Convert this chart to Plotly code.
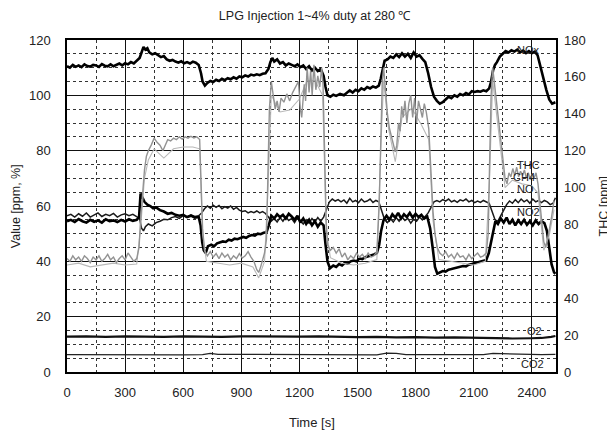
import plotly.graph_objects as go

# ---------------- data ----------------
nox_t = [0,15,30,45,60,75,90,105,120,135,150,165,180,195,210,225,240,255,270,285,300,315,330,345,360,375,385,395,405,415,425,440,455,470,485,500,515,530,545,560,575,590,605,620,635,650,665,680,692,700,712,725,740,755,770,785,800,815,830,845,860,875,890,905,920,935,950,965,980,995,1010,1025,1040,1050,1060,1070,1085,1100,1115,1130,1145,1160,1175,1190,1205,1220,1235,1250,1265,1280,1295,1310,1325,1335,1345,1360,1375,1390,1410,1430,1445,1460,1475,1490,1505,1520,1535,1550,1565,1580,1595,1610,1620,1630,1640,1655,1670,1685,1700,1715,1730,1745,1760,1775,1790,1805,1820,1835,1850,1865,1880,1895,1910,1925,1940,1955,1970,1985,2000,2015,2030,2045,2060,2075,2090,2105,2120,2135,2150,2165,2180,2190,2200,2210,2220,2235,2250,2265,2280,2295,2310,2325,2340,2355,2370,2385,2400,2415,2430,2445,2460,2475,2490,2505,2522]
nox_v = [110.5,110,111,110.3,110.8,110.2,111.2,110.6,110.4,111,110.8,110.3,111.3,110.7,110.5,111.2,110.5,111,111.5,110.8,111.6,111.2,112,111.5,112.5,113.5,115.5,117.5,116.5,117,115.5,114.8,115.2,114.5,113.8,114.2,113,112.5,112.8,112.2,111.8,112.3,111.6,112,111.5,112.2,111.8,111,108,105,103.5,104.5,105.2,104.8,105.6,105.2,106,105.5,106.2,105.8,106.5,106,106.8,106.5,107.2,106.8,107.5,107.2,107.6,107.3,107.8,108,109.5,112,113.5,112.2,113,111.5,112,110.8,111.5,111,110.5,111.2,110.2,110.8,109.5,110.5,109,110,108.8,109.5,107,103,100,99.5,100.2,99.8,100.5,100,101,101.8,101,102,101.5,102.5,102,103,102.5,103.2,102.8,103.5,106,110,112.5,113,114,113.5,114.8,113.8,115.2,114,115,113.5,115.5,114,114.5,113.2,112,108,103,99.5,98,97,97.5,98.5,99.5,99,100,99.5,100.5,100,100.8,100.3,101.5,101.2,101.5,101.3,101.8,101.5,102.5,105,109,111,112,114,115.2,116,115.5,116.3,115.8,116.5,115.5,116.2,115.3,116,115.2,115.8,114.5,110,106,102,98.5,97,97.5]

thc_t = [0,15,30,45,60,75,90,105,120,135,150,165,180,195,210,225,240,255,270,285,300,315,330,345,360,372,380,390,400,410,420,435,450,465,480,495,505,520,535,550,565,580,595,610,625,640,655,670,685,692,700,710,725,740,755,770,785,800,815,830,845,860,875,890,905,920,935,950,965,980,990,1000,1010,1020,1030,1038,1045,1055,1065,1075,1085,1095,1105,1120,1135,1150,1165,1180,1195,1205,1212,1225,1232,1240,1250,1258,1266,1275,1285,1295,1305,1315,1322,1330,1338,1345,1360,1375,1390,1405,1420,1435,1450,1465,1480,1495,1510,1525,1540,1555,1570,1585,1600,1612,1620,1628,1635,1645,1655,1665,1675,1685,1695,1703,1712,1720,1728,1736,1745,1755,1765,1775,1785,1795,1805,1815,1825,1835,1845,1855,1868,1880,1890,1900,1912,1925,1940,1955,1970,1985,2000,2015,2030,2045,2060,2075,2090,2105,2120,2135,2150,2165,2175,2182,2190,2198,2206,2214,2222,2232,2242,2252,2262,2272,2282,2292,2302,2312,2322,2332,2342,2352,2362,2372,2382,2392,2402,2412,2422,2432,2442,2452,2462,2472,2482,2492,2502,2515]
thc_v = [61.5,60,63,60.8,62.3,60,63,61.5,59.3,62.3,60.8,63,60,61.5,63.8,60.8,62.3,59.3,61.5,63,60.8,64.5,62.3,60,61.5,67.5,82.5,97.5,109.5,117,120,123,126.8,124.5,123,120,122.3,126,125.3,126.8,126,127.5,126.3,127.5,126.8,127.8,126.9,127.5,126,105,78,66,63,65.3,62.3,64.2,61.5,64.5,62.3,63.8,60.8,63,61.5,64.2,61.8,63,65.3,62.3,60,55.5,54,57,61.5,64.5,72,105,142.5,157.5,150,142.5,147,141,148.5,146.3,150.8,147,151.5,154.5,157.5,142.5,138,156,147,165,151.5,163.5,150,166.5,153,160.5,154.5,165,156,120,82.5,69,66,67.5,64.5,66.8,62.3,64.5,60.8,63,61.5,64.5,62.3,63.8,61.5,64.5,62.3,63,65.3,90,127.5,157.5,165,150,139.5,132,127.5,123,119.3,123,135,130.5,144,138,147,135,145.5,150,138,148.5,135,147,142.5,138,145.5,141,132,105,87,75,67.5,64.5,63,65.3,62.3,63.8,61.5,64.5,62.3,63,60.8,63.8,61.5,63,64.5,62.3,63,64.5,75,112.5,150,165,157.5,147,142.5,132,123,114,105,102,108,105.8,110.3,106.5,111,105.8,108.8,106.5,109.5,105,108,104.3,107.3,105,108,102,90,78,70.5,67.5,72,78,84,93]

ch4_t = [0,60,120,180,240,300,360,380,400,420,450,500,550,600,650,685,700,720,780,840,900,960,990,1020,1038,1055,1100,1150,1200,1240,1280,1320,1338,1360,1420,1480,1540,1600,1620,1635,1660,1695,1730,1780,1830,1868,1890,1920,1980,2040,2100,2160,2182,2198,2230,2262,2300,2350,2400,2432,2462,2490,2515]
ch4_v = [58,59,57,58,59,58,58.5,78,105,115,121,116,121,122,122,121,75,60,59,58,59,57,51,60,100,150,141,142,148,158,158,150,78,62,59,58,59,61,120,158,132,114,138,143,134,126,82,61,60,59,58,60,105,158,128,100,104,102,101,97,66,74,88]

no_t = [0,20,40,60,80,100,120,140,160,180,200,220,240,260,280,300,320,340,360,375,385,395,405,420,440,460,480,500,520,540,560,580,600,620,640,660,680,695,710,725,740,755,770,785,800,815,830,845,860,875,890,905,920,935,950,965,980,995,1010,1025,1040,1055,1070,1085,1100,1115,1130,1145,1160,1175,1190,1205,1220,1235,1250,1265,1280,1295,1310,1325,1340,1355,1370,1385,1400,1415,1430,1445,1460,1475,1490,1505,1520,1535,1550,1565,1580,1595,1610,1625,1640,1655,1670,1685,1700,1715,1730,1745,1760,1775,1790,1805,1820,1835,1850,1865,1880,1895,1910,1925,1940,1955,1970,1985,2000,2015,2030,2045,2060,2075,2090,2105,2120,2135,2150,2165,2180,2195,2210,2225,2240,2255,2270,2285,2300,2315,2330,2345,2360,2375,2390,2405,2420,2435,2450,2465,2480,2495,2510,2522]
no_v = [56.5,57,56,57.2,56.3,57.5,56,56.8,57.5,56.2,57,56.5,57.3,56,56.8,57.2,56.5,57,56.2,55.5,52,51,52.5,53.5,52.8,54,54.5,55.2,55,55.8,56.2,55.5,56.5,56,56.8,56.2,56.5,57.5,59,60,59.2,60.3,59.5,60.2,59,59.8,59.2,60,58.8,59.5,58.5,58,58.3,57.5,58,57.6,58.2,57.5,58,57.3,56,54.5,55.5,54.2,55.8,54.5,56,54.8,55.5,54,55.8,54.5,53.5,55,53.8,55.5,54.2,55.8,54.5,56,59,61.5,62.5,61.8,62.3,61.5,62.2,61,62.8,61.5,62,61.2,62.5,61.5,61.8,62.5,61.3,62,61.5,58,55,54,55.5,54.2,55.8,54.5,56,54.8,55.5,53.8,55.2,54.5,56,55,56.2,57.5,59.5,61.5,62,61.5,62.3,61.8,62.5,61.5,62,61.3,62.2,61.8,62.5,61.5,62,61.2,61.8,61.3,62,61.5,61,58,55,54.5,56.5,58.5,60.5,61.8,61,62.3,61.2,62.5,61.5,62.2,61,62.5,61.5,62,61.2,62,61.5,60.5,61,63]

no2_t = [0,20,40,60,80,100,120,140,160,180,200,220,240,260,280,300,320,340,360,372,380,390,400,415,430,445,460,480,500,520,540,560,580,600,620,640,660,680,690,698,706,716,728,745,760,775,790,805,820,835,850,865,880,895,910,925,940,955,970,985,1000,1015,1030,1042,1055,1070,1085,1100,1115,1130,1145,1160,1175,1190,1205,1220,1235,1250,1265,1280,1295,1310,1325,1335,1345,1358,1375,1390,1405,1420,1435,1450,1465,1480,1495,1510,1525,1540,1555,1570,1585,1600,1612,1622,1635,1650,1665,1680,1695,1710,1725,1740,1755,1770,1785,1800,1815,1830,1845,1860,1875,1888,1900,1912,1925,1940,1955,1970,1985,2000,2015,2030,2045,2060,2075,2090,2105,2120,2135,2150,2165,2178,2190,2200,2212,2225,2240,2255,2270,2285,2300,2315,2330,2345,2360,2375,2390,2405,2420,2435,2450,2465,2478,2490,2502,2515,2522]
no2_v = [54.5,55,54.2,55.3,54.5,54,55,54.3,54.8,54,55.2,54.5,54.8,54.2,55,54.4,55.2,54.6,55,56,64.5,63,61.5,60.5,60,59.2,59.5,58.5,58,57.2,57.5,56.8,56.5,56.8,56,56.5,55.8,56,53,47,44,43,45.5,46,45.5,46.5,46.8,47.2,47,47.8,47.5,48.2,48,48.5,48.8,48.5,49.2,49.5,49.3,50,49.8,50.3,50.5,53,56.5,55.5,57,56,56.8,55.5,57.2,56.2,55,56.5,54,55.5,53.5,55,53,54.5,52.5,54,53,46,40,37.5,38.5,38,39,38.5,39.5,39.2,40,40.3,40,41,40.8,41.5,41.8,42.2,42.5,43,46,51,55,56.5,55,57,55.8,57.5,55.5,57,56,57.5,55.8,57.2,56,56.8,55.5,56.2,52,45,38,35.5,36,36.5,36.3,37,37.2,37.5,37.8,38,38.3,38.2,38.8,39,39.3,39.5,39.8,40,40.5,43,47,51,54.5,53.5,55.5,54,55.8,53.5,55,53,54.8,53.5,55,53.2,54.5,53,54.8,53.5,54.5,53.8,51,45,39,36,35.5]

o2_t = [0,100,200,300,400,500,600,700,800,900,1000,1100,1200,1300,1400,1500,1600,1700,1800,1900,2000,2100,2200,2300,2400,2450,2500,2522]
o2_v = [12.8,12.9,12.7,12.9,12.8,12.7,12.9,12.8,12.7,12.9,12.8,12.7,12.8,12.9,12.7,12.6,12.7,12.5,12.6,12.4,12.5,12.3,12.2,12.1,12.2,12.3,12.7,13.0]

co2_t = [0,200,400,600,700,740,780,1000,1200,1400,1600,1650,1700,1750,2000,2150,2200,2300,2450,2522]
co2_v = [6.3,6.2,6.3,6.2,6.3,6.7,6.4,6.3,6.2,6.3,6.2,6.8,6.7,6.3,6.2,6.3,6.7,6.5,6.3,6.4]

x_ticks = [0, 300, 600, 900, 1200, 1500, 1800, 2100, 2400]
y_left_ticks = [0, 20, 40, 60, 80, 100, 120]
y_right_ticks = [0, 20, 40, 60, 80, 100, 120, 140, 160, 180]

label_names = ["NOx", "THC", "CH4", "NO", "NO2", "O2", "CO2"]
label_t = [2385, 2385, 2360, 2365, 2385, 2415, 2405]
label_v = [116.5, 75, 70.5, 66, 58, 14.8, 2.8]

# ---------------- figure ----------------
FONT = "Liberation Sans, Arial, sans-serif"
TXT = "#222222"
fig = go.Figure()

fig.add_trace(go.Scatter(x=ch4_t, y=ch4_v, yaxis="y2", mode="lines",
                         line=dict(color="#b8b8b8", width=1.1), name="CH4"))
fig.add_trace(go.Scatter(x=thc_t, y=thc_v, yaxis="y2", mode="lines",
                         line=dict(color="#939393", width=1.4), name="THC"))
fig.add_trace(go.Scatter(x=o2_t, y=o2_v, mode="lines",
                         line=dict(color="#111111", width=2.2), name="O2"))
fig.add_trace(go.Scatter(x=co2_t, y=co2_v, mode="lines",
                         line=dict(color="#222222", width=1.3), name="CO2"))
fig.add_trace(go.Scatter(x=no_t, y=no_v, mode="lines",
                         line=dict(color="#1a1a1a", width=1.5), name="NO"))
fig.add_trace(go.Scatter(x=no2_t, y=no2_v, mode="lines",
                         line=dict(color="#000000", width=2.6), name="NO2"))
fig.add_trace(go.Scatter(x=nox_t, y=nox_v, mode="lines",
                         line=dict(color="#000000", width=2.6), name="NOx"))

for name, t, v in zip(label_names, label_t, label_v):
    fig.add_annotation(x=t, y=v, xref="x", yref="y", text=name, showarrow=False,
                       xanchor="center", yanchor="middle",
                       font=dict(family=FONT, size=11, color=TXT))

# axis titles placed as annotations (paper coords relative to plot area)
fig.add_annotation(x=-0.104, y=0.5, xref="paper", yref="paper", text="Value [ppm, %]",
                   textangle=-90, showarrow=False, xanchor="center", yanchor="middle",
                   font=dict(family=FONT, size=12.5, color=TXT))
fig.add_annotation(x=1.099, y=0.5, xref="paper", yref="paper", text="THC [ppm]",
                   textangle=-90, showarrow=False, xanchor="center", yanchor="middle",
                   font=dict(family=FONT, size=12.5, color=TXT))
fig.add_annotation(x=0.5, y=-0.151, xref="paper", yref="paper", text="Time [s]",
                   showarrow=False, xanchor="center", yanchor="middle",
                   font=dict(family=FONT, size=13, color=TXT))

# the page body adds an 8 px offset, so the figure is drawn 8 px smaller
fig.update_layout(
    width=607, height=429,
    margin=dict(l=59, r=59, t=32, b=65, autoexpand=False),
    paper_bgcolor="white", plot_bgcolor="white",
    showlegend=False,
    font=dict(family=FONT, size=13, color=TXT),
    title=dict(text="LPG Injection 1~4% duty at 280 ℃", x=0.5065, xref="paper",
               xanchor="center", y=1 - 8 / 429, yref="container", yanchor="middle",
               font=dict(family=FONT, size=12.5, color=TXT)),
    xaxis=dict(range=[0, 2525], tickvals=x_ticks, ticktext=[str(v) for v in x_ticks],
               showgrid=True, gridcolor="#111111", gridwidth=1,
               minor=dict(dtick=150, tick0=0, showgrid=True, griddash="3px,3px",
                          gridcolor="#333333", gridwidth=1),
               showline=True, linecolor="#000000", linewidth=1.5, mirror=True,
               zeroline=False, ticks="", ticklabelstandoff=8, automargin=False),
    yaxis=dict(range=[0, 120], tickvals=y_left_ticks,
               showgrid=True, gridcolor="#111111", gridwidth=1,
               minor=dict(dtick=5, tick0=0, showgrid=True, griddash="3px,3px",
                          gridcolor="#333333", gridwidth=1),
               showline=True, linecolor="#000000", linewidth=1.5, mirror=True,
               zeroline=False, ticks="", ticklabelstandoff=12, automargin=False),
    yaxis2=dict(range=[0, 180], tickvals=y_right_ticks, overlaying="y", side="right",
                showgrid=False, zeroline=False, showline=False, ticks="",
                ticklabelstandoff=7, automargin=False),
)

fig.write_html("out.html")
